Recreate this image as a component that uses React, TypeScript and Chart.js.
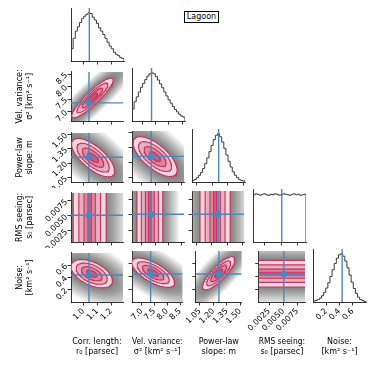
import React, { useEffect, useRef } from 'react';
import { Chart, registerables } from 'chart.js';

Chart.register(...registerables);

// ---------------- data ----------------
const LEGEND_LABEL = 'Lagoon';
const LABEL_LINE1 = ['Corr. length:', 'Vel. variance:', 'Power-law', 'RMS seeing:', 'Noise:'];
const LABEL_LINE2 = ['r₀ [parsec]', 'σ² [km² s⁻¹]', 'slope: m', 's₀ [parsec]', '[km² s⁻¹]'];

const AXIS_MIN = [0.91, 6.62, 1.004, 0.00065, 0.0];
const AXIS_MAX = [1.286, 8.6, 1.517, 0.00885, 0.8];

const TICKS_R0 = [1.0, 1.1, 1.2];
const TICKS_VAR = [7.0, 7.5, 8.0, 8.5];
const TICKS_SLOPE = [1.05, 1.2, 1.35, 1.5];
const TICKS_SEEING = [0.0025, 0.005, 0.0075];
const TICKS_NOISE = [0.2, 0.4, 0.6];
const TICK_VALUES = [TICKS_R0, TICKS_VAR, TICKS_SLOPE, TICKS_SEEING, TICKS_NOISE];

const TEXT_R0 = ['1.0', '1.1', '1.2'];
const TEXT_VAR = ['7.0', '7.5', '8.0', '8.5'];
const TEXT_SLOPE = ['1.05', '1.20', '1.35', '1.50'];
const TEXT_SEEING = ['0.0025', '0.0050', '0.0075'];
const TEXT_NOISE = ['0.2', '0.4', '0.6'];
const TICK_TEXT = [TEXT_R0, TEXT_VAR, TEXT_SLOPE, TEXT_SEEING, TEXT_NOISE];

const TRUTHS = [1.04, 7.35, 1.262, 0.0051, 0.44];

// 1D marginal histograms (relative counts, 25 bins over the axis range)
const HIST_R0 = [0.255, 0.47, 0.62, 0.71, 0.8, 0.88, 0.93, 0.97, 1.0, 0.985, 0.91, 0.85, 0.78, 0.69, 0.62, 0.55, 0.47, 0.39, 0.31, 0.255, 0.18, 0.14, 0.11, 0.07, 0.05];
const HIST_VAR = [0.25, 0.4, 0.5, 0.6, 0.7, 0.78, 0.86, 0.93, 0.98, 1.0, 0.98, 0.92, 0.85, 0.77, 0.69, 0.6, 0.52, 0.44, 0.37, 0.3, 0.24, 0.19, 0.14, 0.1, 0.08];
const HIST_SLOPE = [0.03, 0.05, 0.09, 0.14, 0.2, 0.28, 0.38, 0.5, 0.63, 0.76, 0.88, 0.97, 1.0, 0.94, 0.83, 0.7, 0.56, 0.43, 0.31, 0.21, 0.14, 0.09, 0.05, 0.03, 0.02];
const HIST_SEEING = [0.98, 1.0, 0.99, 0.97, 0.99, 1.0, 0.98, 0.97, 0.99, 0.98, 1.0, 0.99, 0.97, 0.98, 1.0, 0.99, 0.98, 0.97, 0.99, 1.0, 0.98, 0.99, 0.97, 0.98, 0.99];
const HIST_NOISE = [0.02, 0.03, 0.05, 0.08, 0.13, 0.2, 0.29, 0.4, 0.53, 0.67, 0.8, 0.91, 0.98, 1.0, 0.95, 0.85, 0.71, 0.56, 0.41, 0.28, 0.18, 0.1, 0.05, 0.03, 0.01];
const HISTS = [HIST_R0, HIST_VAR, HIST_SLOPE, HIST_SEEING, HIST_NOISE];

// 2D panels: column variable, row variable, and the shape
const PANEL_COL = [0, 0, 1, 0, 1, 2, 0, 1, 2, 3];
const PANEL_ROW = [1, 2, 2, 3, 3, 3, 4, 4, 4, 4];
const PANEL_CX: (number | null)[] = [1.065, 1.07, 7.5, 1.045, 7.3, 1.232, 1.06, 7.45, 1.26, null];
const PANEL_CY: (number | null)[] = [7.55, 1.258, 1.26, null, null, null, 0.46, 0.46, 0.45, 0.445];
const PANEL_SX: (number | null)[] = [0.075, 0.078, 0.42, 0.08, 0.33, 0.1, 0.075, 0.42, 0.09, null];
const PANEL_SY: (number | null)[] = [0.4, 0.1, 0.1, null, null, null, 0.115, 0.115, 0.13, 0.14];
const PANEL_RHO = [0.9, -0.7, -0.68, 0, 0, 0, -0.5, -0.68, 0.82, 0];

const CONTOUR_LEVELS_2D = [2, 1.5, 1, 0.5];
const CONTOUR_LEVELS_1D = [1.49, 0.98, 0.51, 0.15];
const CLOUD_LEVELS_2D = [4.8, 4.5, 4.2, 3.95, 3.7, 3.45, 3.2, 3.0, 2.8, 2.6, 2.4, 2.2];
const CLOUD_LEVELS_1D = [3.4, 3.2, 3.0, 2.8, 2.6, 2.45, 2.3, 2.15, 2.0, 1.85, 1.72, 1.6];

// ---------------- styling / layout ----------------
const FONT = "'DejaVu Sans', sans-serif";
const BLUE = '#4a87c0';
const HIST_COLOR = '#3a3a3a';
const CONTOUR_RGB = [196, 52, 94];
const FILL_ALPHAS = [0.2, 0.4, 0.6, 0.8];
const CLOUD_FILL = 'rgba(60,60,60,0.075)';
const PANEL_LEFT = [71, 132, 192, 253, 313];
const PANEL_TOP = [8, 68, 129, 189, 249];
const PANEL_SIZE = 53;
const PAD_T = 2;
const PAD_R = 3;
const PAD_SMALL = 6;

function tint(a: number) {
  const [r, g, b] = CONTOUR_RGB;
  return `rgb(${Math.round(255 + (r - 255) * a)},${Math.round(255 + (g - 255) * a)},${Math.round(255 + (b - 255) * a)})`;
}
const LINE_COLOR = `rgb(${CONTOUR_RGB.join(',')})`;

type Pt = { x: number; y: number };

function region(i: number, k: number) {
  const c = PANEL_COL[i];
  const r = PANEL_ROW[i];
  const cx = PANEL_CX[i], cy = PANEL_CY[i], sx = PANEL_SX[i], sy = PANEL_SY[i];
  const rho = PANEL_RHO[i];
  const xMin = AXIS_MIN[c], xMax = AXIS_MAX[c], yMin = AXIS_MIN[r], yMax = AXIS_MAX[r];
  if (sy === null && cx !== null && sx !== null) {
    const lo = cx - k * sx, hi = cx + k * sx;
    return {
      upper: [{ x: lo, y: yMax }, { x: hi, y: yMax }],
      lower: [{ x: lo, y: yMin }, { x: hi, y: yMin }],
      outlines: [
        [{ x: lo, y: yMin }, { x: lo, y: yMax }],
        [{ x: hi, y: yMin }, { x: hi, y: yMax }],
      ],
    };
  }
  if (sx === null && cy !== null && sy !== null) {
    const lo = cy - k * sy, hi = cy + k * sy;
    return {
      upper: [{ x: xMin, y: hi }, { x: xMax, y: hi }],
      lower: [{ x: xMin, y: lo }, { x: xMax, y: lo }],
      outlines: [
        [{ x: xMin, y: lo }, { x: xMax, y: lo }],
        [{ x: xMin, y: hi }, { x: xMax, y: hi }],
      ],
    };
  }
  const upper: Pt[] = [];
  const lower: Pt[] = [];
  const n = 64;
  for (let j = 0; j <= n; j++) {
    const u = -k * Math.cos((Math.PI * j) / n);
    const root = Math.sqrt(Math.max(0, (1 - rho * rho) * (k * k - u * u)));
    const x = (cx as number) + (sx as number) * u;
    upper.push({ x, y: (cy as number) + (sy as number) * (rho * u + root) });
    lower.push({ x, y: (cy as number) + (sy as number) * (rho * u - root) });
  }
  return { upper, lower, outlines: [[...upper, ...lower.slice().reverse()]] };
}

function makeAxis(v: number, isY: boolean, labels: boolean, title: boolean, size: number, noTicks = false, min?: number, max?: number) {
  return {
    type: 'linear',
    position: isY ? 'left' : 'bottom',
    min: min ?? AXIS_MIN[v],
    max: max ?? AXIS_MAX[v],
    afterBuildTicks: (s: any) => {
      s.ticks = noTicks ? [] : TICK_VALUES[v].map((value) => ({ value }));
    },
    afterFit: (s: any) => {
      if (isY) s.width = size;
      else s.height = size;
    },
    ticks: {
      display: labels,
      autoSkip: false,
      minRotation: 45,
      maxRotation: 45,
      padding: 1,
      color: '#000',
      font: { family: FONT, size: 8 },
      callback: (_val: any, idx: number) => TICK_TEXT[v][idx],
    },
    grid: {
      display: !noTicks,
      drawOnChartArea: false,
      drawTicks: true,
      tickLength: 3.5,
      color: '#000',
      lineWidth: 0.8,
    },
    border: { display: true, color: '#000', width: 0.8 },
    title: {
      display: title,
      text: [LABEL_LINE1[v], LABEL_LINE2[v]],
      color: '#000',
      font: { family: FONT, size: 8, lineHeight: 1.25 },
      padding: isY ? { top: 14.5, bottom: 0 } : { top: 0, bottom: 17 },
    },
  };
}

function baseOptions(scales: any) {
  return {
    animation: false,
    responsive: false,
    devicePixelRatio: 1,
    events: [],
    layout: { padding: { top: PAD_T, right: PAD_R, left: 0, bottom: 0 } },
    plugins: { legend: { display: false }, tooltip: { enabled: false } },
    elements: { point: { radius: 0 }, line: { tension: 0 } },
    scales,
  };
}

function withOrder(layers: any[]) {
  return layers.map((d, i) => ({ ...d, order: layers.length - i }));
}

function histConfig(v: number, padL: number, padB: number) {
  const vals = HISTS[v];
  const n = vals.length;
  const lo = AXIS_MIN[v], hi = AXIS_MAX[v];
  const edge = (j: number) => lo + ((hi - lo) * j) / n;
  const pts: Pt[] = [{ x: edge(0), y: 0 }];
  vals.forEach((val, j) => pts.push({ x: edge(j), y: val }));
  pts.push({ x: edge(n), y: 0 });
  const yMax = 1.1 * Math.max(...vals);
  const isBottom = v === 4;
  const layers = [
    { data: pts, stepped: true, borderColor: HIST_COLOR, borderWidth: 1, pointRadius: 0, fill: false },
    { data: [{ x: TRUTHS[v], y: 0 }, { x: TRUTHS[v], y: yMax }], borderColor: BLUE, borderWidth: 1.4, pointRadius: 0, fill: false },
  ];
  return {
    type: 'line',
    data: { datasets: withOrder(layers) },
    options: baseOptions({
      x: makeAxis(v, false, isBottom, isBottom, padB),
      y: makeAxis(v, true, false, false, padL, true, 0, yMax),
    }),
  };
}

function pairConfig(i: number, padL: number, padB: number) {
  const c = PANEL_COL[i];
  const r = PANEL_ROW[i];
  const is2D = PANEL_SX[i] !== null && PANEL_SY[i] !== null;
  const cloud = is2D ? CLOUD_LEVELS_2D : CLOUD_LEVELS_1D;
  const contour = is2D ? CONTOUR_LEVELS_2D : CONTOUR_LEVELS_1D;
  const layers: any[] = [];
  cloud.forEach((k) => {
    const g = region(i, k);
    layers.push({ data: g.upper, fill: '+1', backgroundColor: CLOUD_FILL, borderWidth: 0, pointRadius: 0 });
    layers.push({ data: g.lower, fill: false, borderWidth: 0, pointRadius: 0 });
  });
  contour.forEach((k, j) => {
    const g = region(i, k);
    layers.push({ data: g.upper, fill: '+1', backgroundColor: tint(FILL_ALPHAS[j]), borderWidth: 0, pointRadius: 0 });
    layers.push({ data: g.lower, fill: false, borderWidth: 0, pointRadius: 0 });
  });
  contour.forEach((k) => {
    region(i, k).outlines.forEach((o) => {
      layers.push({ data: o, fill: false, borderColor: LINE_COLOR, borderWidth: 1.1, pointRadius: 0 });
    });
  });
  const tx = TRUTHS[c], ty = TRUTHS[r];
  layers.push({ data: [{ x: tx, y: AXIS_MIN[r] }, { x: tx, y: AXIS_MAX[r] }], borderColor: BLUE, borderWidth: 1.4, pointRadius: 0, fill: false });
  layers.push({ data: [{ x: AXIS_MIN[c], y: ty }, { x: AXIS_MAX[c], y: ty }], borderColor: BLUE, borderWidth: 1.4, pointRadius: 0, fill: false });
  layers.push({ data: [{ x: tx, y: ty }], showLine: false, pointRadius: 3.2, pointBackgroundColor: BLUE, pointBorderWidth: 0, fill: false });
  const isBottom = r === 4;
  const isLeft = c === 0;
  return {
    type: 'line',
    data: { datasets: withOrder(layers) },
    options: baseOptions({
      x: makeAxis(c, false, isBottom, isBottom, padB),
      y: makeAxis(r, true, isLeft, isLeft, padL),
    }),
  };
}

function ChartCanvas({ left, top, width, height, make }: { left: number; top: number; width: number; height: number; make: () => any }) {
  const ref = useRef<HTMLCanvasElement>(null);
  useEffect(() => {
    const chart = new Chart(ref.current as HTMLCanvasElement, make());
    return () => chart.destroy();
  }, []);
  return (
    <canvas
      ref={ref}
      width={width}
      height={height}
      style={{ position: 'absolute', left, top, width, height }}
    />
  );
}

function panelBox(c: number, r: number) {
  const padL = c === 0 ? PANEL_LEFT[0] : PAD_SMALL;
  const padB = r === 4 ? 374 - (PANEL_TOP[4] + PANEL_SIZE) : PAD_SMALL;
  return {
    padL,
    padB,
    left: PANEL_LEFT[c] - padL,
    top: PANEL_TOP[r] - PAD_T,
    width: padL + PANEL_SIZE + PAD_R,
    height: PAD_T + PANEL_SIZE + padB,
  };
}

export default function App() {
  const items: React.ReactNode[] = [];
  for (let v = 0; v < 5; v++) {
    const b = panelBox(v, v);
    items.push(
      <ChartCanvas key={`h${v}`} left={b.left} top={b.top} width={b.width} height={b.height} make={() => histConfig(v, b.padL, b.padB)} />
    );
  }
  for (let i = 0; i < PANEL_COL.length; i++) {
    const b = panelBox(PANEL_COL[i], PANEL_ROW[i]);
    items.push(
      <ChartCanvas key={`p${i}`} left={b.left} top={b.top} width={b.width} height={b.height} make={() => pairConfig(i, b.padL, b.padB)} />
    );
  }
  return (
    <div style={{ position: 'fixed', left: 0, top: 0, width: 374, height: 374, background: '#fff', overflow: 'hidden' }}>
      {items}
      <div
        style={{
          position: 'absolute',
          left: 184,
          top: 11,
          width: 35,
          height: 12,
          boxSizing: 'border-box',
          border: '0.8px solid #000',
          background: '#fff',
          fontFamily: FONT,
          fontSize: 8,
          lineHeight: '10.5px',
          textAlign: 'center',
          color: '#000',
        }}
      >
        {LEGEND_LABEL}
      </div>
    </div>
  );
}
